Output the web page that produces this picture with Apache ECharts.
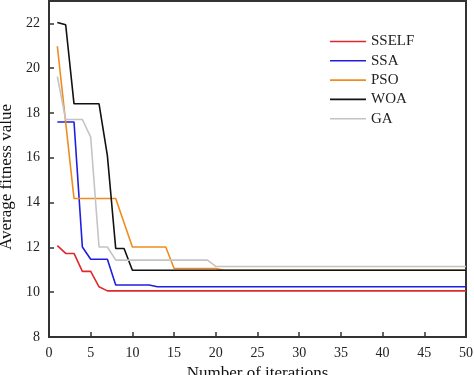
<!DOCTYPE html>
<html>
<head>
<meta charset="utf-8">
<script src="https://cdn.jsdelivr.net/npm/echarts@6/dist/echarts.min.js"></script>
<style>
  html, body { margin: 0; padding: 0; background: #fff; }
  #chart { width: 474px; height: 375px; }
</style>
</head>
<body>
<div id="chart"></div>
<script>
// breakpoints (iteration, average fitness)
const sselfX = [1, 2, 3, 4, 5, 6, 7, 50]
const sselfY = [12.08, 11.73, 11.73, 10.93, 10.93, 10.24, 10.06, 10.06]
const ssaX = [1, 3, 4, 5, 7, 8, 12, 13, 50]
const ssaY = [17.6, 17.6, 12.02, 11.47, 11.47, 10.32, 10.32, 10.24, 10.24]
const psoX = [1, 3, 8, 10, 14, 15, 20, 21, 50]
const psoY = [20.98, 14.18, 14.18, 12.02, 12.02, 11.06, 11.06, 10.98, 10.98]
const woaX = [1, 2, 3, 6, 7, 8, 9, 10, 50]
const woaY = [22.04, 21.94, 18.41, 18.41, 16.1, 11.95, 11.95, 10.98, 10.98]
const gaX = [1, 2, 4, 5, 6, 7, 8, 19, 20, 50]
const gaY = [19.63, 17.71, 17.71, 16.92, 12.02, 12.02, 11.43, 11.43, 11.15, 11.15]

const seriesNames = ['SSELF', 'SSA', 'PSO', 'WOA', 'GA']
const seriesColors = ['#e0282c', '#1f1fe0', '#f08c1e', '#111111', '#c4c4c4']

const font = 'Liberation Serif'
const pairs = (xs, ys) => xs.map((x, i) => [x, ys[i]])
const allData = [
  pairs(sselfX, sselfY),
  pairs(ssaX, ssaY),
  pairs(psoX, psoY),
  pairs(woaX, woaY),
  pairs(gaX, gaY),
]

const chart = echarts.init(document.getElementById('chart'))

chart.setOption({
  animation: false,
  grid: {
    left: 49, right: 8, top: 1, bottom: 38,
    outerBoundsMode: 'none',
    show: true, borderColor: '#333', borderWidth: 2,
  },
  legend: {
    orient: 'vertical',
    left: 325, top: 29,
    itemWidth: 36, itemHeight: 15, itemGap: 4.3,
    icon: 'path://M0,0H36V1.6H0Z',
    data: seriesNames,
    textStyle: { fontFamily: font, fontSize: 15, color: '#222' },
  },
  xAxis: {
    type: 'value',
    min: 0, max: 50, interval: 5,
    name: 'Number of iterations',
    nameLocation: 'middle',
    nameGap: 20,
    nameTextStyle: { fontFamily: font, fontSize: 17, color: '#111' },
    axisLine: { lineStyle: { color: '#333', width: 2 } },
    axisTick: { inside: true, length: 5, lineStyle: { color: '#333', width: 1.5 } },
    axisLabel: { fontFamily: font, fontSize: 14, color: '#222', margin: 9 },
    splitLine: { show: false },
  },
  yAxis: {
    type: 'value',
    min: 8, max: 23, interval: 2,
    name: 'Average fitness value',
    nameLocation: 'middle',
    nameGap: 31,
    nameTextStyle: { fontFamily: font, fontSize: 17, color: '#111', padding: [0, 16, 0, 0] },
    axisLine: { show: true, lineStyle: { color: '#333', width: 2 } },
    axisTick: { show: true, inside: true, length: 5, lineStyle: { color: '#333', width: 1.5 } },
    axisLabel: {
      fontFamily: font, fontSize: 14, color: '#222', margin: 9,
      formatter: v => (v > 22 ? '' : String(v)),
    },
    splitLine: { show: false },
  },
  series: seriesNames.map((name, i) => ({
    name,
    type: 'line',
    data: allData[i],
    symbol: 'none',
    lineStyle: { color: seriesColors[i], width: 1.6 },
    itemStyle: { color: seriesColors[i] },
  })),
})
</script>
</body>
</html>
